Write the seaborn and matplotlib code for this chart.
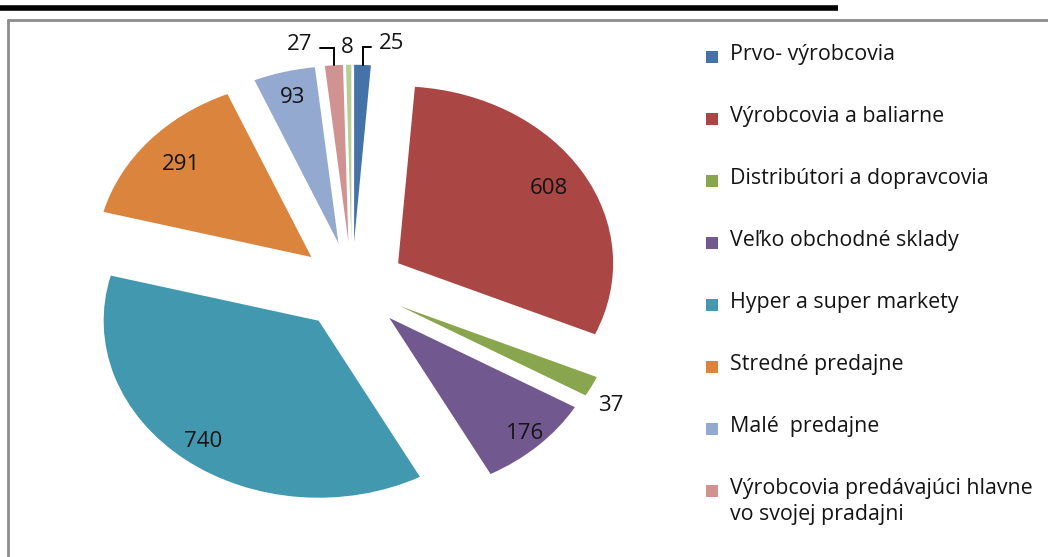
import numpy as np
import matplotlib
matplotlib.use("Agg")
import matplotlib.pyplot as plt
from matplotlib.lines import Line2D
from matplotlib.patches import Rectangle
import seaborn as sns

categories = [
    "Prvo- výrobcovia",
    "Výrobcovia a baliarne",
    "Distribútori a dopravcovia",
    "Veľko obchodné sklady",
    "Hyper a super markety",
    "Stredné predajne",
    "Malé  predajne",
    "Výrobcovia predávajúci hlavne\nvo svojej pradajni",
    "",  # ninth entry is cut off in the source
]
counts = [25, 608, 37, 176, 740, 291, 93, 27, 8]
colors = ["#4572A7", "#AA4643", "#89A54E", "#71588F", "#4198AF",
          "#DB843D", "#93A9CF", "#D19392", "#B9CD96"]

# label placement (radius from exploded wedge centre, nudges)
label_r = [1.12, 0.82, 1.10, 0.91, 0.87, 0.80, 0.85, 1.12, 1.10]
label_dx = [0.13, 0, 0, 0, 0, 0, 0, -0.15, -0.005]
label_dy = [0, 0, -0.06, 0, 0, 0, 0, 0, 0]
leader = [True, False, False, False, False, False, False, True, False]

W, H = 1048, 557
FS_LEG = 15.4
FS_LAB = 16
sns.set_theme(style="white")
plt.rcParams["font.family"] = ["Open Sans", "DejaVu Sans"]

fig = plt.figure(figsize=(W / 100, H / 100), dpi=100)
ax = fig.add_axes([0, 0, 1, 1])

# pie centre at pixel (352, 286), radii 215 x 177 px (stretched source)
cx, cy, rx, ry = 352, 286, 215, 177
wedges, _ = ax.pie(counts, colors=colors, startangle=90, counterclock=False,
                   explode=[0.25] * len(counts), radius=1.0,
                   wedgeprops=dict(linewidth=0))
ax.set_aspect("auto")
ax.set_xlim(-cx / rx, (W - cx) / rx)
ax.set_ylim((cy - H) / ry, cy / ry)
ax.axis("off")

txt_color = "#141414"
for i, w in enumerate(wedges):
    th = np.deg2rad((w.theta1 + w.theta2) / 2)
    x0, y0 = w.center
    lx = x0 + label_r[i] * np.cos(th) + label_dx[i]
    ly = y0 + label_r[i] * np.sin(th) + label_dy[i]
    ax.text(lx, ly, str(counts[i]), ha="center", va="center",
            fontsize=FS_LAB, color=txt_color)
    if leader[i]:
        ex = x0 + np.cos(th)
        ey = y0 + np.sin(th)
        side = 1 if label_dx[i] < 0 else -1
        ax.plot([ex, ex, lx + side * 0.095], [ey, ly - 0.02, ly - 0.02],
                color="black", lw=1.4, solid_joinstyle="miter")

# legend drawn by hand so the two-line entry keeps its marker on the first line
def fx(px):
    return px / W

def fy(py):
    return 1 - py / H

for i in range(8):
    yc = 57 + 62 * i
    fig.add_artist(Rectangle((fx(706), fy(yc + 6)), 12 / W, 12 / H,
                             facecolor=colors[i], edgecolor="none",
                             transform=fig.transFigure))
    fig.text(fx(730), fy(yc - 13), categories[i], ha="left", va="top",
             fontsize=FS_LEG, color=txt_color, linespacing=1.3)

# chart frame and clipped title underline
fig.add_artist(Line2D([fx(8), fx(8)], [0, fy(20)], color="#8c8c8c", lw=2,
                      transform=fig.transFigure))
fig.add_artist(Line2D([fx(8), 1], [fy(20), fy(20)], color="#8c8c8c", lw=2,
                      transform=fig.transFigure))
fig.add_artist(Line2D([0, fx(838)], [fy(8), fy(8)], color="black", lw=4,
                      solid_capstyle="butt", transform=fig.transFigure))

fig.savefig("out.png", dpi=100)
